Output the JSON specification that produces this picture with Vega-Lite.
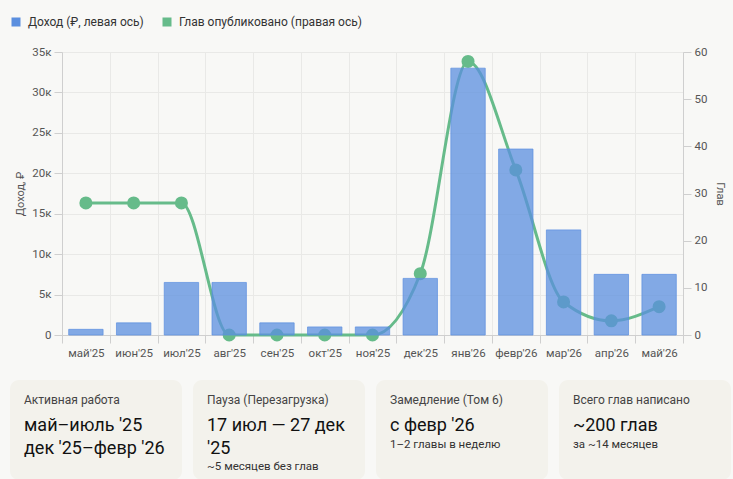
{
  "$schema": "https://vega.github.io/schema/vega-lite/v6.json",
  "background": "#f8f8f6",
  "padding": {"left": 10, "top": 16, "right": 2, "bottom": 0},
  "datasets": {
    "months": [
      {"month": "май'25", "income": 700, "chapters": 28},
      {"month": "июн'25", "income": 1500, "chapters": 28},
      {"month": "июл'25", "income": 6500, "chapters": 28},
      {"month": "авг'25", "income": 6500, "chapters": 0},
      {"month": "сен'25", "income": 1500, "chapters": 0},
      {"month": "окт'25", "income": 1000, "chapters": 0},
      {"month": "ноя'25", "income": 1000, "chapters": 0},
      {"month": "дек'25", "income": 7000, "chapters": 13},
      {"month": "янв'26", "income": 33000, "chapters": 58},
      {"month": "февр'26", "income": 23000, "chapters": 35},
      {"month": "мар'26", "income": 13000, "chapters": 7},
      {"month": "апр'26", "income": 7500, "chapters": 3},
      {"month": "май'26", "income": 7500, "chapters": 6}
    ],
    "cards": [
      {"card": 1, "kind": "label", "line": 0, "text": "Активная работа"},
      {"card": 1, "kind": "main", "line": 1, "text": "май–июль '25"},
      {"card": 1, "kind": "main", "line": 2, "text": "дек '25–февр '26"},
      {"card": 2, "kind": "label", "line": 0, "text": "Пауза (Перезагрузка)"},
      {"card": 2, "kind": "main", "line": 1, "text": "17 июл — 27 дек"},
      {"card": 2, "kind": "main", "line": 2, "text": "'25"},
      {"card": 2, "kind": "sub", "line": 3, "text": "~5 месяцев без глав"},
      {"card": 3, "kind": "label", "line": 0, "text": "Замедление (Том 6)"},
      {"card": 3, "kind": "main", "line": 1, "text": "с февр '26"},
      {"card": 3, "kind": "sub", "line": 2, "text": "1–2 главы в неделю"},
      {"card": 4, "kind": "label", "line": 0, "text": "Всего глав написано"},
      {"card": 4, "kind": "main", "line": 1, "text": "~200 глав"},
      {"card": 4, "kind": "sub", "line": 2, "text": "за ~14 месяцев"}
    ]
  },
  "config": {
    "font": "Roboto",
    "view": {"stroke": null},
    "axis": {
      "labelColor": "#555",
      "labelFontSize": 11.5,
      "titleColor": "#555",
      "titleFontSize": 11,
      "titleFontWeight": "normal",
      "domainColor": "#cfcfcf",
      "tickColor": "#cfcfcf",
      "gridColor": "#e9e9e7",
      "tickSize": 8
    }
  },
  "spacing": 21,
  "vconcat": [
    {
      "width": 673,
      "height": 283,
      "data": {"name": "months"},
      "encoding": {
        "x": {
          "field": "month",
          "type": "nominal",
          "sort": null,
          "scale": {"paddingInner": 0, "paddingOuter": 0, "range": [52, 673]},
          "axis": {"title": null, "labelAngle": 0, "tickBand": "extent", "grid": true, "labelPadding": 4}
        }
      },
      "layer": [
        {
          "layer": [
            {
              "mark": {"type": "line", "interpolate": "monotone", "strokeWidth": 3},
              "encoding": {
                "y": {
                  "field": "chapters",
                  "type": "quantitative",
                  "scale": {"domain": [0, 60]},
                  "axis": {"orient": "right", "title": "Глав", "values": [0, 10, 20, 30, 40, 50, 60], "grid": false, "labelPadding": 3, "titlePadding": 8}
                },
                "color": {
                  "datum": "Глав опубликовано (правая ось)",
                  "scale": {
                    "domain": ["Доход (₽, левая ось)", "Глав опубликовано (правая ось)"],
                    "range": ["#5b8fdf", "#66bb8a"]
                  },
                  "legend": {
                    "title": null,
                    "orient": "none",
                    "legendX": 0,
                    "legendY": -36,
                    "direction": "horizontal",
                    "symbolType": "square",
                    "symbolSize": 81,
                    "symbolStrokeWidth": 0,
                    "symbolOpacity": 1,
                    "labelFontSize": 12,
                    "labelColor": "#333",
                    "labelLimit": 400,
                    "columnPadding": 17,
                    "labelOffset": 6
                  }
                }
              }
            },
            {
              "mark": {"type": "circle", "size": 170, "opacity": 1},
              "encoding": {
                "y": {"field": "chapters", "type": "quantitative"},
                "color": {"datum": "Глав опубликовано (правая ось)"}
              }
            }
          ]
        },
        {
          "mark": {"type": "bar", "width": {"band": 0.72}, "fillOpacity": 0.75, "stroke": "#5b8fdf", "strokeWidth": 1, "strokeOpacity": 0.7},
          "encoding": {
            "y": {
              "field": "income",
              "type": "quantitative",
              "scale": {"domain": [0, 35000]},
              "axis": {
                "orient": "left",
                "offset": -52,
                "title": "Доход, ₽",
                "values": [0, 5000, 10000, 15000, 20000, 25000, 30000, 35000],
                "labelExpr": "datum.value == 0 ? '0' : (datum.value / 1000) + 'к'",
                "grid": true,
                "labelPadding": 3,
                "titlePadding": 6
              }
            },
            "color": {"datum": "Доход (₽, левая ось)"}
          }
        }
      ],
      "resolve": {"scale": {"y": "independent"}}
    },
    {
      "data": {"name": "cards"},
      "facet": {"column": {"field": "card", "type": "ordinal", "title": null, "header": {"labels": false, "title": null}}},
      "spacing": 11,
      "spec": {
        "width": 172,
        "height": 100,
        "view": {"fill": "#f3f2ec", "cornerRadius": 9, "stroke": null},
        "encoding": {
          "x": {"datum": 0, "type": "quantitative", "scale": {"domain": [0, 1], "range": [14, 172]}, "axis": null},
          "y": {"field": "line", "type": "quantitative", "scale": {"domain": [0, 3], "range": [24, 91.5]}, "axis": null}
        },
        "layer": [
          {
            "transform": [{"filter": "datum.kind == 'label'"}],
            "mark": {"type": "text", "align": "left", "baseline": "alphabetic", "fontSize": 12, "color": "#444"},
            "encoding": {"text": {"field": "text"}}
          },
          {
            "transform": [{"filter": "datum.kind == 'main'"}],
            "mark": {"type": "text", "align": "left", "baseline": "alphabetic", "fontSize": 18, "dy": 4.5, "color": "#111"},
            "encoding": {"text": {"field": "text"}}
          },
          {
            "transform": [{"filter": "datum.kind == 'sub'"}],
            "mark": {"type": "text", "align": "left", "baseline": "alphabetic", "fontSize": 11.5, "dy": -1.2, "color": "#333"},
            "encoding": {"text": {"field": "text"}}
          }
        ]
      }
    }
  ]
}
